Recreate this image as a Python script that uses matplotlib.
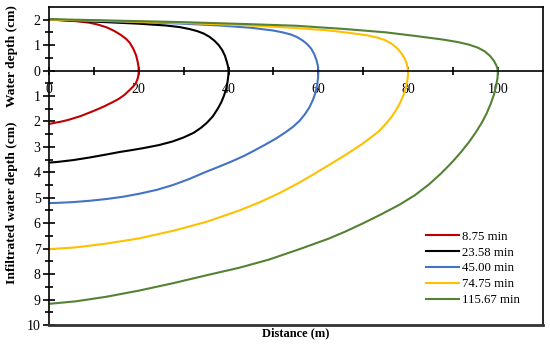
import matplotlib.pyplot as plt
from matplotlib.ticker import FixedLocator, FuncFormatter

plt.rcParams['font.family'] = ['Liberation Serif', 'DejaVu Serif']

# surface profile (y>0) then infiltrated depth (y<0)
labels = ['8.75 min', '23.58 min', '45.00 min', '74.75 min', '115.67 min']
colores = ['#C00000', '#000000', '#4472C4', '#FFC000', '#548235']

x_875 = [0, 3, 6, 9, 11, 12.8, 14.5, 16, 17.2, 18, 18.8, 19.4, 19.75, 19.95, 20,
         19.95, 19.75, 19.4, 18.8, 18, 16.8, 15.5, 14, 12.4, 11, 9.5, 8.2, 6.9, 5.6, 4.5, 3.4, 2.4, 1.4, 0.6, 0]
y_875 = [2.0, 1.98, 1.94, 1.88, 1.8, 1.7, 1.56, 1.4, 1.24, 1.09, 0.85, 0.6, 0.35, 0.15, 0,
         -0.15, -0.32, -0.48, -0.62, -0.76, -0.96, -1.12, -1.26, -1.40, -1.51, -1.62, -1.71, -1.80, -1.87, -1.93, -1.98, -2.02, -2.05, -2.08, -2.1]

x_2358 = [0, 6, 12.8, 20, 26, 29, 31.3, 33, 34.5, 35.7, 36.8, 37.8, 38.6, 39.2, 39.6, 39.9, 40,
          39.95, 39.8, 39.5, 39.0, 38.4, 37.6, 36.5, 35.2, 33.8, 32.2, 30, 27.5, 24.5, 21, 18, 15.8, 12.8, 9, 5.4, 2, 0]
y_2358 = [2.0, 1.95, 1.9, 1.84, 1.77, 1.71, 1.63, 1.55, 1.45, 1.33, 1.18, 1.0, 0.8, 0.58, 0.35, 0.15, 0,
          -0.2, -0.42, -0.7, -0.98, -1.24, -1.5, -1.8, -2.05, -2.26, -2.45, -2.63, -2.79, -2.93, -3.05, -3.14, -3.2, -3.3, -3.42, -3.52, -3.59, -3.62]

x_4500 = [0, 10, 20, 30, 38, 45, 50, 52, 53.8, 55.2, 56.5, 57.5, 58.4, 59.1, 59.6, 59.9, 60,
          59.95, 59.75, 59.4, 58.8, 58.0, 57.0, 55.8, 54.3, 52.5, 50.5, 48.3, 46, 43.5, 41, 38, 35,
          31, 27.6, 24, 20.2, 16.5, 12.8, 9, 5.4, 2, 0]
y_4500 = [2.0, 1.96, 1.9, 1.84, 1.77, 1.68, 1.57, 1.5, 1.42, 1.32, 1.18, 1.04, 0.86, 0.64, 0.4, 0.18, 0,
          -0.25, -0.55, -0.85, -1.15, -1.45, -1.72, -1.98, -2.22, -2.45, -2.68, -2.9, -3.12, -3.35, -3.55, -3.77, -3.98,
          -4.28, -4.5, -4.69, -4.84, -4.96, -5.05, -5.12, -5.17, -5.2, -5.21]

x_7475 = [0, 15, 30, 45, 55, 62, 66, 71, 73, 74.8, 76.2, 77.4, 78.4, 79.2, 79.7, 80,
          79.9, 79.6, 79.1, 78.4, 77.5, 76.4, 75, 73.5, 71.8, 69.8, 67.5, 65, 62, 59, 55.8, 51.3, 47,
          42.4, 35, 27.6, 20, 12.8, 6, 0]
y_7475 = [2.0, 1.94, 1.87, 1.77, 1.67, 1.58, 1.5, 1.38, 1.3, 1.2, 1.07, 0.9, 0.7, 0.48, 0.26, 0,
          -0.3, -0.6, -0.9, -1.2, -1.5, -1.8, -2.1, -2.38, -2.62, -2.88, -3.15, -3.43, -3.75, -4.07, -4.4, -4.82, -5.17,
          -5.5, -5.95, -6.3, -6.6, -6.8, -6.95, -7.02]

x_11567 = [0, 15, 30, 45, 55, 66, 75, 82, 88, 91, 93.5, 95.5, 97, 98.2, 99.1, 99.7, 100,
           99.9, 99.6, 99.1, 98.4, 97.5, 96.4, 95.1, 93.6, 91.8, 89.7, 87.3, 84.6, 81.5, 78, 74, 70, 66,
           62.4, 55.8, 49, 42.4, 35, 27.6, 20, 12.8, 6, 0]
y_11567 = [2.02, 1.96, 1.9, 1.82, 1.76, 1.63, 1.5, 1.35, 1.21, 1.12, 1.02, 0.9, 0.76, 0.58, 0.38, 0.18, 0,
           -0.3, -0.6, -0.95, -1.3, -1.68, -2.05, -2.42, -2.8, -3.2, -3.62, -4.05, -4.48, -4.9, -5.28, -5.65, -6.0, -6.33,
           -6.6, -7.02, -7.43, -7.75, -8.05, -8.36, -8.65, -8.89, -9.07, -9.17]

xs = [x_875, x_2358, x_4500, x_7475, x_11567]
ys = [y_875, y_2358, y_4500, y_7475, y_11567]

fig, ax = plt.subplots(figsize=(5.5, 3.45), dpi=100)
fig.subplots_adjust(left=0.089, right=0.987, top=0.980, bottom=0.058)

for x, y, c, l in zip(xs, ys, colores, labels):
    ax.plot(x, y, color=c, lw=1.5, label=l, solid_joinstyle='round')

ax.set_xlim(0, 110)
ax.set_ylim(-10, 2.5)

# eje x en y=0, marco abajo en y=-10
ax.spines['bottom'].set_position(('data', 0))
ax.axhline(-10, color='#333333', lw=2, clip_on=False, zorder=5)
for s in ['top', 'right', 'left']:
    ax.spines[s].set_color('black')
    ax.spines[s].set_linewidth(1.2)
ax.spines['bottom'].set_linewidth(1.2)

ax.xaxis.set_major_locator(FixedLocator(range(0, 101, 10)))
ax.xaxis.set_major_formatter(FuncFormatter(lambda v, p: '%d' % v if int(v) % 20 == 0 else ''))
ax.yaxis.set_major_locator(FixedLocator(range(-10, 3)))
ax.yaxis.set_minor_locator(FixedLocator([i + 0.5 for i in range(-10, 2)]))
ax.yaxis.set_major_formatter(FuncFormatter(lambda v, p: '%d' % abs(v)))

ax.tick_params(axis='x', direction='inout', length=6, width=1.2, labelsize=10, pad=6)
ax.tick_params(axis='y', which='major', direction='inout', length=8, width=1.2, labelsize=10, pad=2)
ax.tick_params(axis='y', which='minor', direction='inout', length=6, width=1.2)

fig.text(0.022, 0.838, 'Water depth (cm)', rotation=90, ha='center', va='center',
         fontsize=9.7, fontweight='bold')
fig.text(0.022, 0.412, 'Infiltrated water depth (cm)', rotation=90, ha='center', va='center',
         fontsize=9.7, fontweight='bold')
fig.text(0.538, 0.035, 'Distance (m)', ha='center', va='center', fontsize=9, fontweight='bold')

ax.legend(loc='lower right', bbox_to_anchor=(0.945, 0.113), bbox_transform=fig.transFigure,
          frameon=False, fontsize=9.2, handlelength=2.6, handletextpad=0.2,
          labelspacing=0.3, borderpad=0, borderaxespad=0)

plt.savefig('out.png', dpi=100)
